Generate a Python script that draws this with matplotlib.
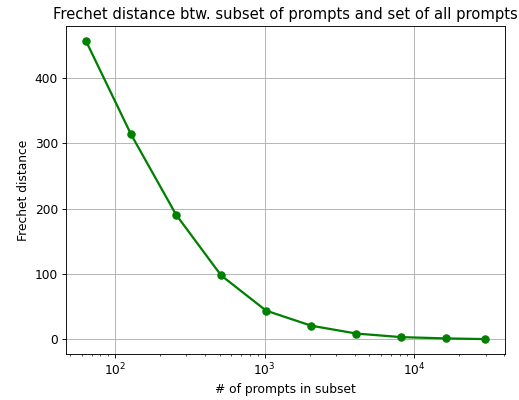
import matplotlib
matplotlib.use("Agg")
import matplotlib.pyplot as plt

n_prompts = [64, 128, 256, 512, 1024, 2048, 4096, 8192, 16384, 29700]
frechet = [457, 314, 191, 98, 44, 21, 9, 3.5, 1.5, 0.5]

plt.rcParams["font.size"] = 10.9
DPI = 81.1
fig = plt.figure(figsize=(519 / DPI, 400 / DPI), dpi=DPI)
ax = fig.add_axes([66 / 519, 1 - 354 / 400, (505 - 66) / 519, (354 - 26) / 400])
ax.plot(n_prompts, frechet, color="green", marker="o", linewidth=2, markersize=6.5)
ax.set_xscale("log")
ax.grid(True)
ax.set_xlabel("# of prompts in subset")
ax.set_ylabel("Frechet distance")
ax.set_title("Frechet distance btw. subset of prompts and set of all prompts")
fig.savefig("out.png", dpi=DPI)
